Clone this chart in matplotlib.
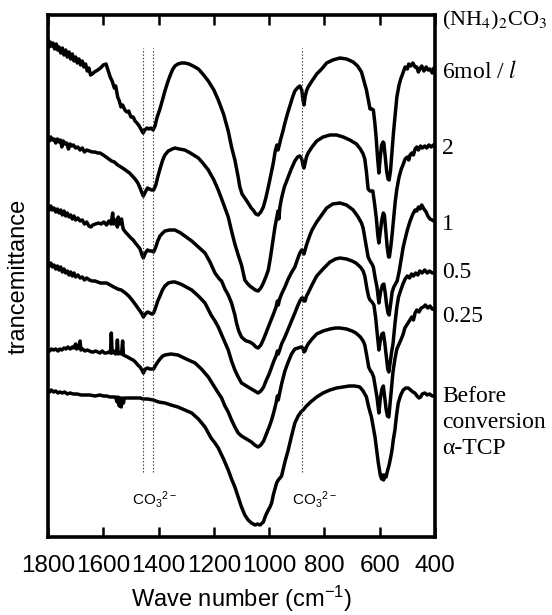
import matplotlib
matplotlib.use('Agg')
import matplotlib.pyplot as plt

plt.rcParams['font.family'] = 'Liberation Sans'
plt.rcParams['mathtext.fontset'] = 'custom'
plt.rcParams['mathtext.rm'] = 'Liberation Sans'
plt.rcParams['mathtext.it'] = 'Liberation Sans:italic'

# IR spectra, (wave number cm-1, transmittance a.u. incl. vertical offset)
spec_6mol = [(1800,497),(1796,490),(1792,495),(1787,491),(1782,494),(1776,488),(1770,493),(1765,487),(1760,490),(1754,484),(1748,489),(1742,482),(1736,487),(1730,480),(1724,485),(1718,478),(1712,483),(1706,476),(1700,480),(1694,474),(1688,478),(1682,472),(1676,476),(1670,470),(1664,473),(1658,466),(1652,469),(1646,462),(1640,463),(1632,465),(1620,467),(1610,469),(1600,472),(1590,473),(1582,466),(1575,460),(1568,456),(1560,449),(1555,451),(1548,440),(1542,436),(1536,430),(1530,432),(1522,427),(1515,425),(1508,426),(1500,420),(1492,420),(1485,416),(1478,414),(1470,411),(1462,407),(1456,404),(1450,407),(1442,409),(1435,408),(1428,409),(1420,407),(1413,411),(1405,420),(1395,428),(1385,438),(1377,446),(1368,454),(1359,461),(1350,467),(1341,471),(1330,473),(1318,474),(1305,474),(1290,473),(1275,471),(1256,468),(1240,463),(1220,456),(1200,447),(1184,437),(1165,423),(1148,406),(1136,390),(1124,377),(1112,360),(1106,350),(1098,343),(1088,339),(1076,334),(1065,329),(1058,327),(1048,323),(1040,322),(1030,325),(1021,330),(1012,339),(1003,350),(994,362),(985,374),(978,386),(972,392),(968,387),(965,390),(958,398),(950,406),(943,414),(934,423),(925,431),(915,440),(907,446),(898,449),(889,451),(882,447),(877,436),(874,432),(870,440),(865,446),(859,450),(845,456),(828,463),(810,468),(792,474),(770,477),(744,479),(720,478),(696,475),(680,471),(666,465),(656,455),(648,447),(640,435),(635,428),(628,428),(623,427),(618,415),(613,400),(608,380),(603,364),(598,380),(593,392),(588,395),(585,394),(580,380),(575,366),(570,358),(566,357),(561,366),(556,384),(550,405),(544,423),(538,440),(530,452),(524,458),(516,464),(508,470),(500,468),(495,473),(488,471),(480,474),(472,470),(466,470),(460,465),(455,468),(448,471),(440,466),(432,470),(425,467),(418,468),(410,464),(404,469),(400,467)]

spec_2mol = [(1800,399),(1795,396),(1790,400),(1784,397),(1778,398),(1772,394),(1766,398),(1760,395),(1755,397),(1750,390),(1745,396),(1738,393),(1732,394),(1726,388),(1720,393),(1714,391),(1708,392),(1700,389),(1692,390),(1684,387),(1676,389),(1668,385),(1660,387),(1650,386),(1640,385),(1630,385),(1620,384),(1612,384),(1600,382),(1590,380),(1580,378),(1570,376),(1560,375),(1548,372),(1536,370),(1525,368),(1515,366),(1505,364),(1495,361),(1485,358),(1475,354),(1467,349),(1460,344),(1455,341),(1448,345),(1440,349),(1433,348),(1425,347),(1418,347),(1410,352),(1403,360),(1395,368),(1385,377),(1377,382),(1365,386),(1350,388),(1341,389),(1325,388),(1305,387),(1285,384),(1256,379),(1240,374),(1220,367),(1200,357),(1184,347),(1165,333),(1148,320),(1136,306),(1124,293),(1112,282),(1100,272),(1092,262),(1088,257),(1080,254),(1070,251),(1060,249),(1050,247),(1040,246),(1030,249),(1021,254),(1012,260),(1003,267),(995,280),(987,295),(979,310),(972,320),(968,326),(965,318),(961,330),(955,339),(945,350),(931,360),(920,368),(907,376),(897,380),(889,381),(882,378),(877,371),(874,369),(870,374),(865,380),(859,384),(845,390),(828,396),(805,400),(780,402),(756,402),(732,400),(708,397),(684,393),(670,388),(660,383),(654,378),(648,365),(642,348),(635,346),(625,346),(618,332),(612,318),(607,302),(603,294),(598,305),(592,318),(587,324),(583,322),(578,306),(573,290),(568,280),(565,280),(560,290),(555,303),(550,318),(544,335),(538,348),(530,360),(522,368),(516,372),(508,378),(500,380),(495,377),(490,382),(484,384),(478,382),(472,388),(466,390),(460,387),(452,391),(446,389),(437,391),(430,389),(422,392),(414,390),(406,392),(400,391)]

spec_1mol = [(1800,330),(1795,327),(1790,331),(1784,327),(1778,329),(1772,325),(1766,328),(1760,324),(1754,327),(1748,322),(1742,326),(1736,321),(1730,324),(1724,320),(1718,322),(1712,318),(1706,321),(1700,317),(1692,319),(1684,316),(1676,317),(1668,313),(1660,315),(1652,311),(1645,310),(1638,312),(1628,313),(1618,314),(1608,313),(1598,315),(1588,312),(1580,316),(1572,313),(1566,324),(1563,313),(1556,317),(1549,310),(1546,320),(1540,313),(1534,318),(1528,308),(1520,305),(1510,302),(1500,299),(1492,297),(1484,294),(1475,291),(1467,288),(1460,282),(1455,279),(1448,284),(1440,287),(1432,286),(1425,286),(1418,285),(1410,290),(1403,296),(1395,301),(1385,304),(1377,306),(1360,307),(1341,307),(1320,304),(1300,300),(1280,296),(1256,290),(1232,284),(1214,275),(1196,264),(1180,258),(1172,256),(1160,248),(1148,242),(1136,234),(1124,222),(1118,214),(1110,206),(1100,200),(1088,197),(1082,196),(1070,195),(1058,193),(1048,190),(1040,189),(1030,192),(1020,198),(1010,205),(1000,212),(991,218),(983,224),(975,230),(970,236),(967,232),(962,238),(955,243),(943,250),(931,258),(920,264),(907,270),(897,278),(889,284),(882,287),(878,286),(874,283),(870,287),(865,292),(855,300),(845,307),(828,315),(810,322),(792,329),(770,333),(744,334),(720,332),(696,327),(678,320),(666,314),(660,309),(652,296),(646,286),(642,280),(635,276),(628,273),(623,270),(617,260),(610,250),(603,234),(597,245),(590,252),(585,253),(580,244),(575,232),(570,224),(566,222),(561,232),(555,245),(549,250),(543,253),(537,256),(530,265),(522,278),(515,290),(509,297),(500,307),(490,316),(480,323),(472,327),(466,326),(460,330),(454,328),(448,332),(440,328),(432,325),(426,321),(418,318),(410,317),(400,315)]

spec_05mol = [(1800,274),(1795,271),(1790,274),(1784,270),(1778,272),(1772,268),(1766,271),(1760,267),(1754,270),(1748,265),(1742,268),(1736,264),(1730,266),(1724,262),(1718,265),(1712,261),(1706,264),(1700,260),(1692,262),(1684,259),(1676,260),(1668,257),(1660,259),(1650,257),(1640,256),(1630,256),(1620,255),(1610,254),(1600,254),(1588,254),(1575,252),(1562,250),(1548,248),(1535,247),(1520,244),(1508,241),(1496,237),(1485,233),(1475,229),(1467,226),(1460,223),(1455,220),(1448,223),(1440,225),(1432,224),(1424,223),(1418,224),(1410,230),(1403,236),(1395,241),(1386,247),(1377,251),(1365,254),(1350,255),(1341,255),(1320,253),(1300,250),(1280,247),(1256,241),(1232,234),(1210,222),(1196,216),(1184,210),(1165,198),(1148,187),(1136,176),(1124,167),(1112,160),(1100,154),(1088,152),(1076,150),(1064,148),(1052,146),(1040,144),(1030,146),(1020,150),(1010,157),(1000,163),(991,170),(983,176),(975,181),(970,186),(967,183),(962,187),(955,193),(943,200),(931,208),(919,216),(907,224),(897,231),(889,236),(882,239),(878,239),(874,236),(870,236),(865,241),(859,244),(845,252),(828,261),(805,268),(780,275),(760,278),(744,279),(720,278),(700,276),(686,274),(670,270),(660,266),(654,261),(646,248),(640,240),(635,237),(628,235),(621,232),(615,220),(610,206),(603,187),(598,196),(592,203),(587,204),(582,195),(576,180),(571,168),(567,165),(562,175),(557,185),(552,193),(545,213),(538,230),(532,240),(525,246),(516,253),(508,258),(500,261),(492,259),(485,263),(478,261),(470,264),(462,262),(455,266),(447,264),(437,267),(428,264),(420,266),(410,264),(400,265)]

spec_025mol = [(1800,187),(1794,186),(1788,188),(1780,187),(1772,188),(1764,186),(1757,188),(1750,187),(1742,189),(1735,188),(1728,190),(1720,188),(1712,190),(1708,189),(1700,193),(1697,188),(1690,189),(1684,196),(1681,187),(1675,188),(1666,186),(1658,187),(1650,186),(1642,185),(1636,185),(1628,186),(1620,185),(1612,184),(1604,186),(1596,184),(1588,184),(1580,185),(1574,184),(1571,204),(1568,184),(1562,186),(1556,183),(1552,184),(1549,197),(1546,183),(1540,184),(1534,183),(1530,196),(1527,182),(1520,181),(1512,180),(1500,178),(1492,177),(1484,175),(1475,172),(1467,170),(1460,167),(1455,164),(1448,168),(1440,169),(1432,168),(1425,168),(1418,168),(1410,172),(1403,175),(1395,178),(1385,181),(1377,182),(1355,183),(1330,182),(1300,178),(1268,174),(1245,168),(1220,160),(1200,151),(1184,144),(1172,139),(1160,131),(1148,125),(1136,117),(1124,110),(1112,104),(1100,101),(1088,99),(1076,97),(1064,95),(1052,92),(1040,90),(1030,92),(1020,96),(1010,103),(1000,110),(991,117),(983,125),(975,134),(970,141),(967,137),(962,144),(955,153),(943,166),(931,175),(919,183),(907,188),(895,189),(885,190),(878,189),(874,185),(870,186),(865,190),(859,193),(845,198),(828,203),(805,206),(780,208),(760,209),(744,209),(720,208),(700,206),(686,204),(670,200),(660,196),(654,192),(646,180),(640,170),(635,167),(628,164),(622,160),(616,150),(610,140),(603,124),(598,138),(592,148),(587,151),(582,140),(577,128),(572,121),(567,120),(562,135),(557,150),(552,165),(545,178),(538,188),(530,193),(522,198),(515,203),(509,209),(500,213),(491,217),(484,220),(478,217),(472,224),(466,227),(458,225),(450,229),(442,230),(435,232),(426,229),(418,231),(410,228),(400,227)]

spec_tcp = [(1800,147),(1794,145),(1788,147),(1780,145),(1772,146),(1764,144),(1757,145),(1748,144),(1740,145),(1730,143),(1720,144),(1708,143),(1695,143),(1680,142),(1665,142),(1648,142),(1630,141),(1612,142),(1600,141),(1588,141),(1575,140),(1565,140),(1556,140),(1550,135),(1547,140),(1542,131),(1539,139),(1535,130),(1532,139),(1527,134),(1524,139),(1515,139),(1500,139),(1485,139),(1467,139),(1455,138),(1440,138),(1419,137),(1400,135),(1377,134),(1355,132),(1330,130),(1305,127),(1280,124),(1256,118),(1232,110),(1210,99),(1196,94),(1184,89),(1165,78),(1148,67),(1136,58),(1124,50),(1112,40),(1100,30),(1088,22),(1076,17),(1064,14),(1051,12),(1042,13),(1033,12),(1025,14),(1021,15),(1012,22),(1003,27),(997,30),(991,34),(985,42),(979,48),(973,54),(967,57),(961,59),(955,61),(949,68),(943,75),(931,87),(919,101),(907,114),(895,121),(885,125),(877,127),(865,131),(850,135),(828,140),(805,144),(780,147),(756,149),(732,150),(710,151),(690,151),(672,150),(660,146),(648,140),(640,130),(630,120),(622,108),(617,100),(610,85),(605,74),(598,62),(593,58),(589,62),(586,57),(582,62),(577,60),(572,66),(566,72),(560,80),(555,88),(551,97),(545,107),(539,122),(533,134),(524,142),(515,147),(506,149),(497,149),(488,147),(480,145),(473,144),(465,141),(458,139),(452,140),(446,143),(437,144),(428,142),(420,143),(410,141),(400,141)]

spectra = [spec_6mol, spec_2mol, spec_1mol, spec_05mol, spec_025mol, spec_tcp]

# right-hand labels and the level (a.u.) they sit at
labels = ['6mol / $l$', '2', '1', '0.5', '0.25', 'Before', 'conversion', '\u03b1-TCP']
label_levels = [465, 389, 312, 264, 220, 140, 114, 89]
title_level = 517

carbonate_bands = [1455, 1420, 880]
xticks = [1800, 1600, 1400, 1200, 1000, 800, 600, 400]

fig = plt.figure(figsize=(5.52, 6.15), dpi=100)
ax = fig.add_axes([48 / 552, 1 - 537 / 615, 387 / 552, 522 / 615])

for spec in spectra:
    wn = [p[0] for p in spec]
    t = [p[1] for p in spec]
    ax.plot(wn, t, color='black', lw=2.5, solid_joinstyle='round')

for band in carbonate_bands:
    ax.plot([band, band], [65, 489], color='#333333', lw=0.8, linestyle=(0, (1.2, 1.8)))

ax.text(1496, 37, 'CO$_3$$^{2-}$', fontsize=11, ha='left', va='center')
ax.text(919, 37, 'CO$_3$$^{2-}$', fontsize=11, ha='left', va='center')

ax.set_xlim(1800, 400)
ax.set_ylim(0, 522)
ax.set_xticks(xticks)
ax.set_yticks([])
ax.tick_params(axis='x', direction='in', top=True, length=7, width=1.8,
               labelsize=17.5, pad=13)
for s in ax.spines.values():
    s.set_linewidth(2.6)

ax.set_xlabel('Wave number (cm$^{-1}$)', fontsize=17, labelpad=5)
ax.set_ylabel('trancemittance', fontsize=17, labelpad=13)

ax.text(375, title_level, '(NH$_4$)$_2$CO$_3$', fontsize=16, family='Liberation Serif',
        math_fontfamily='stix', ha='left', va='center', clip_on=False)
for lab, lev in zip(labels, label_levels):
    ax.text(375, lev, lab, fontsize=17, family='Liberation Serif', math_fontfamily='stix',
            ha='left', va='center', clip_on=False)

fig.savefig('out.png', dpi=100)
